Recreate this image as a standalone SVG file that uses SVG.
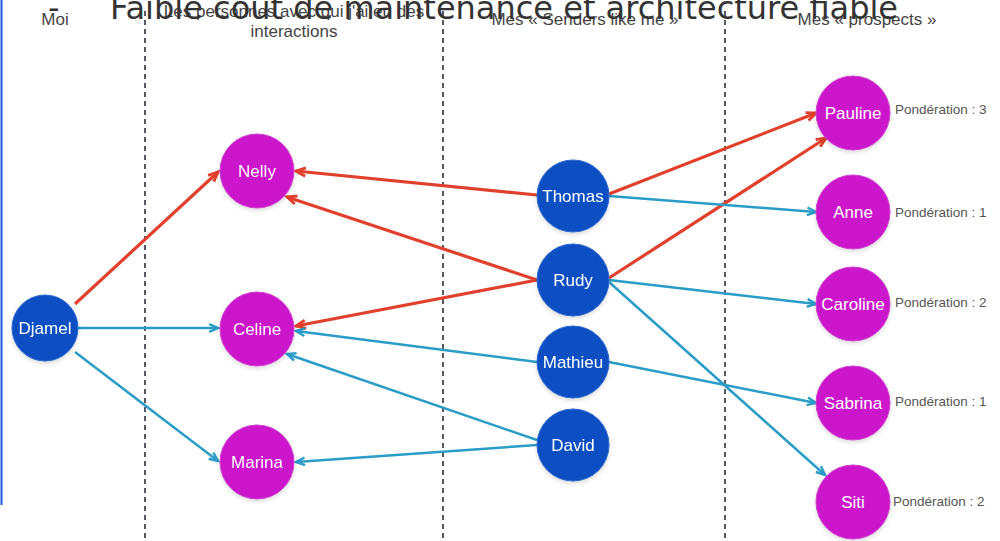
<svg xmlns="http://www.w3.org/2000/svg" width="1000" height="541" viewBox="0 0 1000 541">
<defs>
<style>
.hdr{font-family:"Liberation Sans",Arial,sans-serif;font-size:17px;fill:#444;text-anchor:middle}
.big{font-family:"DejaVu Sans",sans-serif;font-size:32px;fill:#333}
.blue{fill:#0b50c2;stroke:#2a66d0;stroke-width:1}
.pink{fill:#cc12cc;stroke:#d040d0;stroke-width:1}
.nt{font-family:"Liberation Sans",Arial,sans-serif;font-size:17px;fill:#fff;text-anchor:middle;dominant-baseline:central}
.pw{font-family:"Liberation Sans",Arial,sans-serif;font-size:13.5px;fill:#555;dominant-baseline:central}
.col{stroke:#223;stroke-width:1.5;stroke-dasharray:5,4;fill:none}
.r{stroke:#e0402c;stroke-width:3.2;fill:none;marker-end:url(#ar)}
.b{stroke:#2a9cc8;stroke-width:2.5;fill:none;marker-end:url(#ab)}
</style>
<marker id="ar" viewBox="0 0 10 10" refX="9" refY="5" markerWidth="12" markerHeight="12" orient="auto" markerUnits="userSpaceOnUse" overflow="visible">
<path d="M1,1.5 L9,5 L1,8.5" fill="none" stroke="#e0402c" stroke-width="2.4"/>
</marker>
<marker id="ab" viewBox="0 0 10 10" refX="9" refY="5" markerWidth="11" markerHeight="11" orient="auto" markerUnits="userSpaceOnUse" overflow="visible">
<path d="M1,1.5 L9,5 L1,8.5" fill="none" stroke="#2a9cc8" stroke-width="2.2"/>
</marker>
<filter id="sh" x="-30%" y="-30%" width="160%" height="160%">
<feDropShadow dx="0" dy="2" stdDeviation="2" flood-color="#000" flood-opacity="0.15"/>
</filter>
</defs>
<rect width="1000" height="541" fill="#fff"/>
<line x1="1.5" y1="0" x2="1.5" y2="505" stroke="#1a55d8" stroke-width="2"/>
<g id="columns">
<line class="col" x1="145" y1="11" x2="145" y2="541"/>
<line class="col" x1="443" y1="11" x2="443" y2="541"/>
<line class="col" x1="725" y1="11" x2="725" y2="541"/>
</g>
<g id="headers">
<text class="hdr" x="55" y="25">Moi</text>
<text class="hdr" x="294" y="17">Les personnes avec qui j'ai eu des</text>
<text class="hdr" x="294" y="37">interactions</text>
<text class="hdr" x="585" y="25">Mes « Senders like me »</text>
<text class="hdr" x="867" y="25">Mes « prospects »</text>
</g>
<g id="title">
<text class="big" x="48" y="19">-</text>
<text class="big" x="110" y="19">Faible coût de maintenance et architecture fiable</text>
</g>
<g id="connectors">
<line class="r" x1="75" y1="304" x2="218" y2="172"/>
<line class="r" x1="537" y1="195" x2="296" y2="171"/>
<line class="r" x1="537" y1="280" x2="287" y2="197"/>
<line class="r" x1="537" y1="280" x2="296" y2="326"/>
<line class="r" x1="609" y1="194" x2="816" y2="113"/>
<line class="r" x1="609" y1="278" x2="826" y2="138"/>
<line class="b" x1="78" y1="328" x2="218" y2="328"/>
<line class="b" x1="75" y1="352" x2="218" y2="461"/>
<line class="b" x1="609" y1="196" x2="816" y2="212"/>
<line class="b" x1="609" y1="280" x2="816" y2="304"/>
<line class="b" x1="609" y1="282" x2="825" y2="475"/>
<line class="b" x1="537" y1="362" x2="296" y2="331"/>
<line class="b" x1="609" y1="362" x2="816" y2="403"/>
<line class="b" x1="537" y1="440" x2="287" y2="354"/>
<line class="b" x1="537" y1="445" x2="296" y2="462"/>
</g>
<g id="n-djamel" filter="url(#sh)"><circle class="blue" cx="45" cy="328" r="33"/><text class="nt" x="45" y="328">Djamel</text></g>
<g id="n-nelly" filter="url(#sh)"><circle class="pink" cx="257" cy="171" r="37"/><text class="nt" x="257" y="171">Nelly</text></g>
<g id="n-celine" filter="url(#sh)"><circle class="pink" cx="257" cy="329" r="37"/><text class="nt" x="257" y="329">Celine</text></g>
<g id="n-marina" filter="url(#sh)"><circle class="pink" cx="257" cy="462" r="37"/><text class="nt" x="257" y="462">Marina</text></g>
<g id="n-thomas" filter="url(#sh)"><circle class="blue" cx="573" cy="196" r="36"/><text class="nt" x="573" y="196">Thomas</text></g>
<g id="n-rudy" filter="url(#sh)"><circle class="blue" cx="573" cy="280" r="36"/><text class="nt" x="573" y="280">Rudy</text></g>
<g id="n-mathieu" filter="url(#sh)"><circle class="blue" cx="573" cy="362" r="36"/><text class="nt" x="573" y="362">Mathieu</text></g>
<g id="n-david" filter="url(#sh)"><circle class="blue" cx="573" cy="445" r="36"/><text class="nt" x="573" y="445">David</text></g>
<g id="n-pauline"><circle class="pink" cx="853" cy="113" r="37" filter="url(#sh)"/><text class="nt" x="853" y="113">Pauline</text><text class="pw" x="895" y="109">Pondération : 3</text></g>
<g id="n-anne"><circle class="pink" cx="853" cy="212" r="37" filter="url(#sh)"/><text class="nt" x="853" y="212">Anne</text><text class="pw" x="895" y="212">Pondération : 1</text></g>
<g id="n-caroline"><circle class="pink" cx="853" cy="304" r="37" filter="url(#sh)"/><text class="nt" x="853" y="304">Caroline</text><text class="pw" x="895" y="302">Pondération : 2</text></g>
<g id="n-sabrina"><circle class="pink" cx="853" cy="403" r="37" filter="url(#sh)"/><text class="nt" x="853" y="403">Sabrina</text><text class="pw" x="895" y="401">Pondération : 1</text></g>
<g id="n-siti"><circle class="pink" cx="853" cy="502" r="37" filter="url(#sh)"/><text class="nt" x="853" y="502">Siti</text><text class="pw" x="893" y="501">Pondération : 2</text></g>
</svg>
